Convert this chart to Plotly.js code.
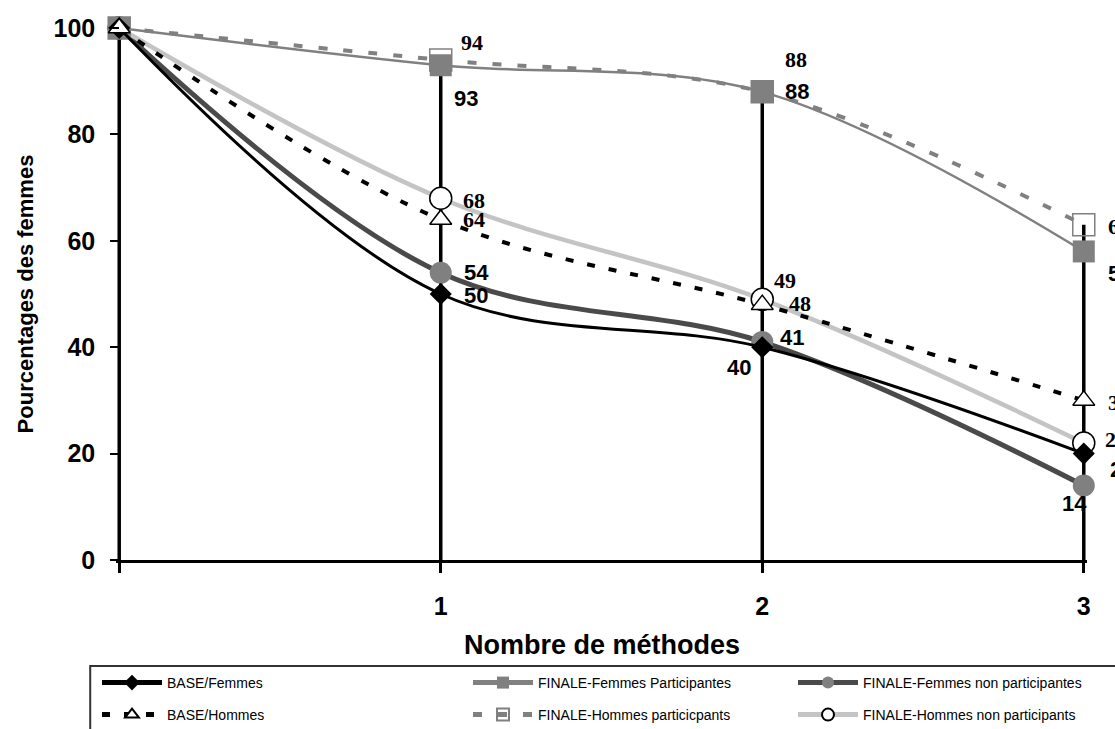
<!DOCTYPE html>
<html>
<head>
<meta charset="utf-8">
<script src="https://cdn.plot.ly/plotly-3.0.1.min.js"></script>
<style>
  html, body { margin: 0; padding: 0; background: #fff; }
  #chart { width: 1115px; height: 729px; }
</style>
</head>
<body>
<div id="chart"></div>
<script>
// ---- data ----
const categories = [0, 1, 2, 3];
const tickLabels = ['', '1', '2', '3'];
const baseFemmes = [100, 50, 40, 20];
const baseHommes = [100, 64, 48, 30];
const finaleFemmesPart = [100, 93, 88, 58];
const finaleHommesPart = [100, 94, 88, 63];
const finaleFemmesNonPart = [100, 54, 41, 14];
const finaleHommesNonPart = [100, 68, 49, 22];
const seriesNames = [
  'BASE/Femmes',
  'BASE/Hommes',
  'FINALE-Femmes Participantes',
  'FINALE-Hommes particicpants',
  'FINALE-Femmes non participantes',
  'FINALE-Hommes non participants'
];
const yTitle = 'Pourcentages des femmes';
const xTitle = 'Nombre de méthodes';

// ---- styles (kept separate from data) ----
const SANS = 'Liberation Sans, Arial, sans-serif';
const SERIF = 'Liberation Serif, Times New Roman, serif';
const styles = {
  'BASE/Femmes': {
    line: {color: '#000000', width: 3, shape: 'spline', smoothing: 1},
    marker: {symbol: 'diamond', size: 17, color: '#000000'},
    legend: 'legend', font: SANS,
    offs: [[21, 1, 'left'], [-23, 20, 'center'], [24, 16, 'left']]
  },
  'BASE/Hommes': {
    line: {color: '#000000', width: 4, dash: '8px,14px', shape: 'spline', smoothing: 1},
    marker: {symbol: 'triangle-up', size: 19, color: '#ffffff', line: {color: '#000000', width: 1.5}},
    legend: 'legend4', font: SERIF,
    offs: [[20, 0, 'left'], [25, -1, 'left'], [22, 2, 'left']]
  },
  'FINALE-Femmes Participantes': {
    line: {color: '#808080', width: 2.5, shape: 'spline', smoothing: 1},
    marker: {symbol: 'square', size: 22, color: '#808080'},
    legend: 'legend2', font: SANS,
    offs: [[11, 33, 'left'], [21, 0, 'left'], [22, 22, 'left']]
  },
  'FINALE-Hommes particicpants': {
    line: {color: '#808080', width: 4, dash: '9px,16px', shape: 'spline', smoothing: 1},
    marker: {symbol: 'square', size: 22, color: 'rgba(255,255,255,0)', line: {color: '#808080', width: 1.5}},
    legend: 'legend5', font: SERIF,
    offs: [[18, -17, 'left'], [21, -32, 'left'], [22, 2, 'left']]
  },
  'FINALE-Femmes non participantes': {
    line: {color: '#4a4a4a', width: 5, shape: 'spline', smoothing: 1},
    marker: {symbol: 'circle', size: 22, color: '#808080'},
    legend: 'legend3', font: SANS,
    offs: [[21, 0, 'left'], [16, -4, 'left'], [-9, 18, 'center']]
  },
  'FINALE-Hommes non participants': {
    line: {color: '#c4c4c4', width: 4.5, shape: 'spline', smoothing: 1},
    marker: {symbol: 'circle', size: 22, color: '#ffffff', line: {color: '#000000', width: 1.5}},
    legend: 'legend6', font: SERIF,
    offs: [[20, 2, 'left'], [10, -19, 'left'], [19, -3, 'left']]
  }
};

const seriesValues = {
  'BASE/Femmes': baseFemmes,
  'BASE/Hommes': baseHommes,
  'FINALE-Femmes Participantes': finaleFemmesPart,
  'FINALE-Hommes particicpants': finaleHommesPart,
  'FINALE-Femmes non participantes': finaleFemmesNonPart,
  'FINALE-Hommes non participants': finaleHommesNonPart
};

// drop lines from the highest value at each category down to 0
const dropX = [], dropY = [];
categories.forEach((c, i) => {
  const top = Math.max(...seriesNames.map(n => seriesValues[n][i]));
  dropX.push(c, c, null);
  dropY.push(0, top, null);
});

const traces = [{
  x: dropX, y: dropY, mode: 'lines', showlegend: false, hoverinfo: 'skip',
  line: {color: '#000000', width: 3.5}, cliponaxis: false
}];

const drawOrder = [
  'FINALE-Femmes non participantes',
  'FINALE-Hommes non participants',
  'FINALE-Femmes Participantes',
  'FINALE-Hommes particicpants',
  'BASE/Femmes',
  'BASE/Hommes'
];
drawOrder.forEach(name => {
  const s = styles[name];
  traces.push({
    x: categories, y: seriesValues[name], name: name,
    mode: 'lines+markers', line: s.line, marker: s.marker,
    legend: s.legend, cliponaxis: false
  });
});

const annotations = [];
seriesNames.forEach(name => {
  const s = styles[name];
  const vals = seriesValues[name];
  vals.forEach((v, i) => {
    if (i === 0) return;
    const o = s.offs[i - 1];
    annotations.push({
      x: categories[i], y: v, xref: 'x', yref: 'y', text: String(v),
      showarrow: false, xanchor: o[2], yanchor: 'middle',
      xshift: o[0], yshift: -o[1],
      font: {family: s.font, size: 22, color: '#000000', weight: 'bold'}
    });
  });
});

annotations.push({
  xref: 'paper', yref: 'paper', x: 0.5, y: -0.16, yanchor: 'middle', xanchor: 'center',
  showarrow: false, text: xTitle,
  font: {family: SANS, size: 27, color: '#000000', weight: 'bold'}
});

function legendAt(px, py) {
  return {
    orientation: 'h', xanchor: 'left', yanchor: 'top',
    xref: 'container', yref: 'container',
    x: px / 1115, y: 1 - py / 729,
    bgcolor: 'rgba(0,0,0,0)', borderwidth: 0,
    itemwidth: 60, itemsizing: 'constant', itemclick: false,
    font: {family: SANS, size: 14, color: '#000000'}
  };
}

// x range padded slightly so lines at 0 and 3 are not clipped
const xPad = 0.01;
const unitPx = 321.5;
const leftPx = 119 - xPad * unitPx;
const plotW = (3 + 2 * xPad) * unitPx;

const layout = {
  width: 1115, height: 729,
  margin: {l: leftPx, r: 1115 - leftPx - plotW, t: 28, b: 169},
  paper_bgcolor: '#ffffff', plot_bgcolor: '#ffffff',
  showlegend: true,
  xaxis: {
    range: [-xPad, 3 + xPad], tickvals: categories, ticktext: tickLabels,
    showgrid: false, zeroline: false, showline: true, linecolor: '#000000', linewidth: 2.5,
    ticks: 'outside', ticklen: 10, tickwidth: 3, tickcolor: '#000000',
    ticklabelstandoff: 12,
    tickfont: {family: SANS, size: 25, color: '#000000', weight: 'bold'},
    fixedrange: true
  },
  yaxis: {
    range: [0, 100], tickvals: [0, 20, 40, 60, 80, 100],
    anchor: 'free', position: xPad / (3 + 2 * xPad),
    showgrid: false, zeroline: false, showline: false,
    ticks: 'outside', ticklen: 9, tickwidth: 2, tickcolor: '#000000',
    ticklabelstandoff: 10,
    tickfont: {family: SANS, size: 25, color: '#000000', weight: 'bold'},
    title: {text: yTitle, standoff: 12, font: {family: SANS, size: 22, color: '#000000', weight: 'bold'}},
    fixedrange: true
  },
  legend: legendAt(97, 667),
  legend2: legendAt(468, 667),
  legend3: legendAt(793, 667),
  legend4: legendAt(97, 699),
  legend5: legendAt(468, 699),
  legend6: legendAt(793, 699),
  shapes: [{
    type: 'rect', xref: 'paper', yref: 'paper',
    x0: (90 - leftPx) / plotW, x1: 1.1, y0: (560 - 666) / 532, y1: (560 - 745) / 532,
    line: {color: '#333333', width: 2}, fillcolor: 'rgba(0,0,0,0)', layer: 'below'
  }],
  annotations: annotations
};

Plotly.newPlot('chart', traces, layout, {displayModeBar: false, staticPlot: true});
</script>
</body>
</html>
